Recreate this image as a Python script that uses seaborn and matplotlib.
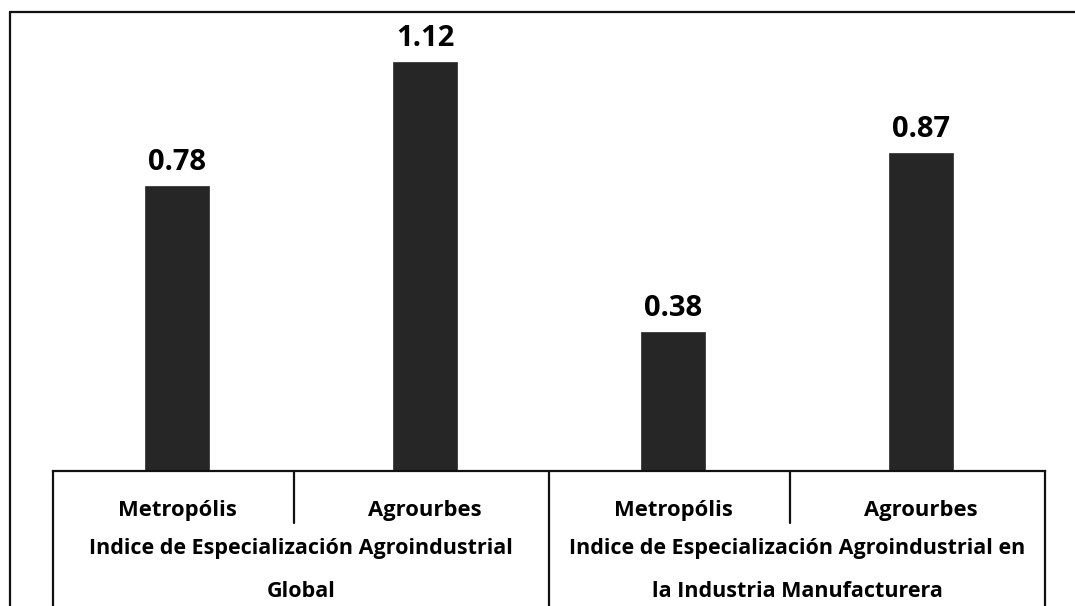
import matplotlib
matplotlib.use("Agg")
import matplotlib.pyplot as plt
from matplotlib.lines import Line2D
import seaborn as sns
import pandas as pd

# Data
categories = ["Metropólis", "Agrourbes", "Metropólis", "Agrourbes"]
groups = ["Indice de Especialización Agroindustrial\nGlobal",
          "Indice de Especialización Agroindustrial en\nla Industria Manufacturera"]
values = [0.78, 1.12, 0.38, 0.87]
value_labels = ["0.78", "1.12", "0.38", "0.87"]

sns.set_theme(style="white")
plt.rcParams["font.family"] = ["Open Sans", "DejaVu Sans"]

df = pd.DataFrame({"pos": [f"c{i}" for i in range(len(values))], "valor": values})

W, H, DPI = 1075, 606, 100
fig = plt.figure(figsize=(W / DPI, H / DPI), dpi=DPI)
ax_left, ax_right = 53 / W, 1045 / W
ax_bottom, ax_top = (H - 471) / H, (H - 33) / H
ax = fig.add_axes([ax_left, ax_bottom, ax_right - ax_left, ax_top - ax_bottom])

sns.barplot(data=df, x="pos", y="valor", color="#262626", width=0.255,
            edgecolor="#3a3a3a", linewidth=0.6, saturation=1, ax=ax)

ax.set_xlim(-0.5, 3.5)
ax.set_ylim(0, 1.2)
ax.set_xticks([])
ax.set_yticks([])
ax.set_xlabel("")
ax.set_ylabel("")
for side in ["top", "right", "left"]:
    ax.spines[side].set_visible(False)
ax.spines["bottom"].set_color("#111111")
ax.spines["bottom"].set_linewidth(1.6)

# Value labels above the bars
for i, (v, lab) in enumerate(zip(values, value_labels)):
    ax.annotate(lab, xy=(i, v), xytext=(0, 11.5), textcoords="offset points",
                ha="center", va="baseline", fontsize=21, fontweight="bold",
                color="#000000")

# Multi-level category axis
xt = ax.get_xaxis_transform()
for i, cat in enumerate(categories):
    ax.text(i, -0.09, cat, transform=xt, ha="center", va="center",
            fontsize=15.8, fontweight="bold", color="#000000", clip_on=False)
for g, name in enumerate(groups):
    ax.text(2 * g + 0.5, -0.226, name, transform=xt, ha="center", va="center",
            fontsize=15.5, fontweight="bold", color="#000000",
            linespacing=2.4, clip_on=False)

# Separator lines below the axis
for x in [-0.5, 1.5, 3.5]:
    ax.add_line(Line2D([x, x], [0, -0.35], transform=xt, color="#111111",
                       lw=1.6, clip_on=False))
for x in [0.472, 2.472]:
    ax.add_line(Line2D([x, x], [0, -0.119], transform=xt, color="#111111",
                       lw=1.6, clip_on=False))

# Chart border
fig.add_artist(Line2D([10 / W, 10 / W], [0, (H - 12) / H], color="#111111", lw=1.6))
fig.add_artist(Line2D([10 / W, 1.0], [(H - 12) / H, (H - 12) / H], color="#111111", lw=1.6))

fig.savefig("out.png", dpi=DPI, facecolor="white")
